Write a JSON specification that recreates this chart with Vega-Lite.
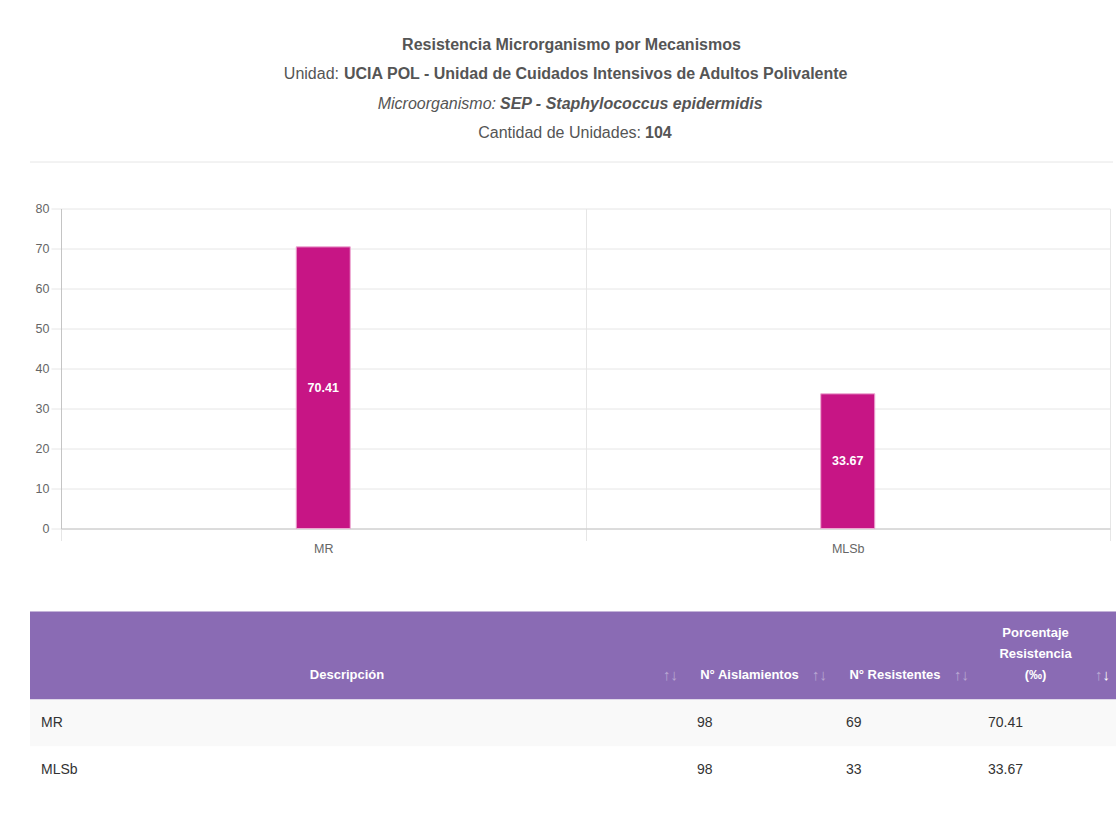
{
  "$schema": "https://vega.github.io/schema/vega-lite/v6.json",
  "background": "white",
  "padding": {"left": 29, "top": 37, "right": 0, "bottom": 0},
  "config": {"view": {"stroke": null}, "font": "Liberation Sans"},
  "datasets": {
    "encabezado": [
      {"linea": 1, "parte": "titulo", "texto": "Resistencia Microrganismo por Mecanismos"},
      {"linea": 2, "parte": "etiqueta", "texto": "Unidad:"},
      {"linea": 2, "parte": "valor", "texto": "UCIA POL - Unidad de Cuidados Intensivos de Adultos Polivalente"},
      {"linea": 3, "parte": "etiqueta", "texto": "Microorganismo:"},
      {"linea": 3, "parte": "valor", "texto": "SEP - Staphylococcus epidermidis"},
      {"linea": 4, "parte": "etiqueta", "texto": "Cantidad de Unidades:"},
      {"linea": 4, "parte": "valor", "texto": "104"}
    ],
    "barras": [
      {"mecanismo": "MR", "porcentaje": 70.41},
      {"mecanismo": "MLSb", "porcentaje": 33.67}
    ],
    "columnas": [
      {"col": "descripcion", "titulo": "Descripción"},
      {"col": "aislamientos", "titulo": "N° Aislamientos"},
      {"col": "resistentes", "titulo": "N° Resistentes"},
      {"col": "porcentaje", "titulo": "Porcentaje\nResistencia\n(‰)"}
    ],
    "tabla": [
      {"descripcion": "MR", "aislamientos": 98, "resistentes": 69, "porcentaje": 70.41},
      {"descripcion": "MLSb", "aislamientos": 98, "resistentes": 33, "porcentaje": 33.67}
    ]
  },
  "spacing": 56.5,
  "vconcat": [
    {
      "spacing": 39.5,
      "vconcat": [
        {
          "width": 1083,
          "height": 117,
          "data": {"name": "encabezado"},
          "encoding": {
            "y": {"field": "linea", "type": "ordinal", "scale": {"type": "point", "padding": 0, "domain": [1, 2, 3, 4, 5]}, "axis": null}
          },
          "layer": [
            {
              "transform": [{"filter": "datum.linea == 1"}],
              "mark": {"type": "text", "fontSize": 16, "fontWeight": "bold", "color": "#555", "baseline": "middle"},
              "encoding": {"text": {"field": "texto", "type": "nominal"}}
            },
            {
              "transform": [{"filter": "datum.linea == 2 && datum.parte == 'etiqueta'"}],
              "mark": {"type": "text", "fontSize": 16, "color": "#555", "align": "right", "baseline": "middle", "dx": -232.5},
              "encoding": {"text": {"field": "texto", "type": "nominal"}}
            },
            {
              "transform": [{"filter": "datum.linea == 2 && datum.parte == 'valor'"}],
              "mark": {"type": "text", "fontSize": 16, "fontWeight": "bold", "color": "#555", "align": "left", "baseline": "middle", "dx": -227.5},
              "encoding": {"text": {"field": "texto", "type": "nominal"}}
            },
            {
              "transform": [{"filter": "datum.linea == 3 && datum.parte == 'etiqueta'"}],
              "mark": {"type": "text", "fontSize": 16, "fontStyle": "italic", "color": "#555", "align": "right", "baseline": "middle", "dx": -75.5},
              "encoding": {"text": {"field": "texto", "type": "nominal"}}
            },
            {
              "transform": [{"filter": "datum.linea == 3 && datum.parte == 'valor'"}],
              "mark": {"type": "text", "fontSize": 16, "fontStyle": "italic", "fontWeight": "bold", "color": "#555", "align": "left", "baseline": "middle", "dx": -71.5},
              "encoding": {"text": {"field": "texto", "type": "nominal"}}
            },
            {
              "transform": [{"filter": "datum.linea == 4 && datum.parte == 'etiqueta'"}],
              "mark": {"type": "text", "fontSize": 16, "color": "#555", "align": "right", "baseline": "middle", "dx": 69.5},
              "encoding": {"text": {"field": "texto", "type": "nominal"}}
            },
            {
              "transform": [{"filter": "datum.linea == 4 && datum.parte == 'valor'"}],
              "mark": {"type": "text", "fontSize": 16, "fontWeight": "bold", "color": "#555", "align": "left", "baseline": "middle", "dx": 73.5},
              "encoding": {"text": {"field": "texto", "type": "nominal"}}
            },
            {
              "transform": [{"filter": "datum.linea == 1"}],
              "mark": {"type": "rule", "color": "#e6e6e6", "strokeWidth": 1},
              "encoding": {"y": {"datum": 5, "type": "ordinal"}}
            }
          ]
        },
        {
          "width": 1080,
          "height": 320,
          "data": {"name": "barras"},
          "encoding": {
            "x": {
              "field": "mecanismo", "type": "nominal", "sort": null,
              "scale": {"paddingInner": 0, "paddingOuter": 0, "rangeMin": 31},
              "axis": {"title": null, "labelAngle": 0, "tickBand": "extent", "grid": true, "gridColor": "#e6e6e6", "tickColor": "#e6e6e6", "tickSize": 12, "domainColor": "#c4c4c4", "labelColor": "#666", "labelFontSize": 12.5, "labelPadding": 2}
            }
          },
          "layer": [
            {
              "mark": {"type": "bar", "color": "#c71585", "stroke": "#eda8d2", "strokeWidth": 1, "width": {"band": 0.103}},
              "encoding": {
                "y": {
                  "field": "porcentaje", "type": "quantitative",
                  "scale": {"domain": [0, 80]},
                  "axis": {"title": null, "values": [0, 10, 20, 30, 40, 50, 60, 70, 80], "offset": -31, "grid": true, "gridColor": "#e6e6e6", "tickColor": "#e6e6e6", "tickSize": 10, "labelPadding": 2, "domainColor": "#c4c4c4", "labelColor": "#666", "labelFontSize": 12.5}
                }
              }
            },
            {
              "mark": {"type": "text", "color": "white", "fontWeight": "bold", "fontSize": 12.5, "baseline": "middle"},
              "encoding": {
                "y": {
                  "field": "porcentaje", "type": "quantitative", "stack": "zero", "bandPosition": 0.5,
                  "scale": {"domain": [0, 80]},
                  "axis": {"title": null, "values": [0, 10, 20, 30, 40, 50, 60, 70, 80], "offset": -31, "grid": true, "gridColor": "#e6e6e6", "tickColor": "#e6e6e6", "tickSize": 10, "labelPadding": 2, "domainColor": "#c4c4c4", "labelColor": "#666", "labelFontSize": 12.5}
                },
                "text": {"field": "porcentaje", "type": "quantitative", "format": ".2f"}
              }
            }
          ]
        }
      ]
    },
    {
      "spacing": -1,
      "vconcat": [
        {
          "spacing": -1,
          "hconcat": [
            {
              "width": 656, "height": 88,
              "view": {"fill": "#8a6bb4", "stroke": null},
              "data": {"name": "columnas"},
              "transform": [{"filter": "datum.col == 'descripcion'"}],
              "encoding": {"y": {"field": "col", "type": "nominal", "scale": {"type": "point", "padding": 0, "align": 1}, "axis": null}},
              "layer": [
                {"mark": {"type": "text", "color": "white", "fontWeight": "bold", "fontSize": 13, "baseline": "bottom", "dx": -11, "dy": -18, "lineBreak": "\n", "lineHeight": 21}, "encoding": {"text": {"field": "titulo", "type": "nominal"}}},
                {"mark": {"type": "text", "text": "↑↓", "color": "white", "opacity": 0.4, "fontSize": 15, "align": "right", "baseline": "bottom", "dx": -8, "dy": -17}, "encoding": {"x": {"field": "col", "type": "nominal", "scale": {"type": "point", "padding": 0, "align": 1}, "axis": null}}}
              ]
            },
            {
              "width": 149, "height": 88,
              "view": {"fill": "#8a6bb4", "stroke": null},
              "data": {"name": "columnas"},
              "transform": [{"filter": "datum.col == 'aislamientos'"}],
              "encoding": {"y": {"field": "col", "type": "nominal", "scale": {"type": "point", "padding": 0, "align": 1}, "axis": null}},
              "layer": [
                {"mark": {"type": "text", "color": "white", "fontWeight": "bold", "fontSize": 13, "baseline": "bottom", "dx": -11, "dy": -18, "lineBreak": "\n", "lineHeight": 21}, "encoding": {"text": {"field": "titulo", "type": "nominal"}}},
                {"mark": {"type": "text", "text": "↑↓", "color": "white", "opacity": 0.4, "fontSize": 15, "align": "right", "baseline": "bottom", "dx": -8, "dy": -17}, "encoding": {"x": {"field": "col", "type": "nominal", "scale": {"type": "point", "padding": 0, "align": 1}, "axis": null}}}
              ]
            },
            {
              "width": 142, "height": 88,
              "view": {"fill": "#8a6bb4", "stroke": null},
              "data": {"name": "columnas"},
              "transform": [{"filter": "datum.col == 'resistentes'"}],
              "encoding": {"y": {"field": "col", "type": "nominal", "scale": {"type": "point", "padding": 0, "align": 1}, "axis": null}},
              "layer": [
                {"mark": {"type": "text", "color": "white", "fontWeight": "bold", "fontSize": 13, "baseline": "bottom", "dx": -11, "dy": -18, "lineBreak": "\n", "lineHeight": 21}, "encoding": {"text": {"field": "titulo", "type": "nominal"}}},
                {"mark": {"type": "text", "text": "↑↓", "color": "white", "opacity": 0.4, "fontSize": 15, "align": "right", "baseline": "bottom", "dx": -8, "dy": -17}, "encoding": {"x": {"field": "col", "type": "nominal", "scale": {"type": "point", "padding": 0, "align": 1}, "axis": null}}}
              ]
            },
            {
              "width": 139, "height": 88,
              "view": {"fill": "#8a6bb4", "stroke": null},
              "data": {"name": "columnas"},
              "transform": [{"filter": "datum.col == 'porcentaje'"}],
              "encoding": {"y": {"field": "col", "type": "nominal", "scale": {"type": "point", "padding": 0, "align": 1}, "axis": null}},
              "layer": [
                {"mark": {"type": "text", "color": "white", "fontWeight": "bold", "fontSize": 13, "baseline": "bottom", "dx": -11, "dy": -60, "lineBreak": "\n", "lineHeight": 21}, "encoding": {"text": {"field": "titulo", "type": "nominal"}}},
                {"mark": {"type": "text", "text": "↑", "color": "white", "opacity": 0.4, "fontSize": 15, "align": "right", "baseline": "bottom", "dx": -13.5, "dy": -17}, "encoding": {"x": {"field": "col", "type": "nominal", "scale": {"type": "point", "padding": 0, "align": 1}, "axis": null}}},
                {"mark": {"type": "text", "text": "↓", "color": "white", "opacity": 1, "fontSize": 15, "align": "right", "baseline": "bottom", "dx": -6, "dy": -17}, "encoding": {"x": {"field": "col", "type": "nominal", "scale": {"type": "point", "padding": 0, "align": 1}, "axis": null}}}
              ]
            }
          ]
        },
        {
          "spacing": -1,
          "hconcat": [
            {
              "width": 656, "height": 47, "view": {"fill": "#f9f9f9", "stroke": null},
              "data": {"name": "tabla"}, "transform": [{"filter": "datum.descripcion == 'MR'"}],
              "mark": {"type": "text", "align": "left", "baseline": "middle", "dx": 11, "fontSize": 14, "color": "#333"},
              "encoding": {"x": {"field": "descripcion", "type": "nominal", "scale": {"type": "point", "padding": 0, "align": 0}, "axis": null}, "text": {"field": "descripcion", "type": "nominal"}}
            },
            {
              "width": 149, "height": 47, "view": {"fill": "#f9f9f9", "stroke": null},
              "data": {"name": "tabla"}, "transform": [{"filter": "datum.descripcion == 'MR'"}],
              "mark": {"type": "text", "align": "left", "baseline": "middle", "dx": 11, "fontSize": 14, "color": "#333"},
              "encoding": {"x": {"field": "descripcion", "type": "nominal", "scale": {"type": "point", "padding": 0, "align": 0}, "axis": null}, "text": {"field": "aislamientos", "type": "quantitative", "format": "d"}}
            },
            {
              "width": 142, "height": 47, "view": {"fill": "#f9f9f9", "stroke": null},
              "data": {"name": "tabla"}, "transform": [{"filter": "datum.descripcion == 'MR'"}],
              "mark": {"type": "text", "align": "left", "baseline": "middle", "dx": 11, "fontSize": 14, "color": "#333"},
              "encoding": {"x": {"field": "descripcion", "type": "nominal", "scale": {"type": "point", "padding": 0, "align": 0}, "axis": null}, "text": {"field": "resistentes", "type": "quantitative", "format": "d"}}
            },
            {
              "width": 139, "height": 47, "view": {"fill": "#f9f9f9", "stroke": null},
              "data": {"name": "tabla"}, "transform": [{"filter": "datum.descripcion == 'MR'"}],
              "mark": {"type": "text", "align": "left", "baseline": "middle", "dx": 11, "fontSize": 14, "color": "#333"},
              "encoding": {"x": {"field": "descripcion", "type": "nominal", "scale": {"type": "point", "padding": 0, "align": 0}, "axis": null}, "text": {"field": "porcentaje", "type": "quantitative", "format": ".2f"}}
            }
          ]
        },
        {
          "spacing": -1,
          "hconcat": [
            {
              "width": 656, "height": 46, "view": {"fill": "white", "stroke": null},
              "data": {"name": "tabla"}, "transform": [{"filter": "datum.descripcion == 'MLSb'"}],
              "mark": {"type": "text", "align": "left", "baseline": "middle", "dx": 11, "fontSize": 14, "color": "#333"},
              "encoding": {"x": {"field": "descripcion", "type": "nominal", "scale": {"type": "point", "padding": 0, "align": 0}, "axis": null}, "text": {"field": "descripcion", "type": "nominal"}}
            },
            {
              "width": 149, "height": 46, "view": {"fill": "white", "stroke": null},
              "data": {"name": "tabla"}, "transform": [{"filter": "datum.descripcion == 'MLSb'"}],
              "mark": {"type": "text", "align": "left", "baseline": "middle", "dx": 11, "fontSize": 14, "color": "#333"},
              "encoding": {"x": {"field": "descripcion", "type": "nominal", "scale": {"type": "point", "padding": 0, "align": 0}, "axis": null}, "text": {"field": "aislamientos", "type": "quantitative", "format": "d"}}
            },
            {
              "width": 142, "height": 46, "view": {"fill": "white", "stroke": null},
              "data": {"name": "tabla"}, "transform": [{"filter": "datum.descripcion == 'MLSb'"}],
              "mark": {"type": "text", "align": "left", "baseline": "middle", "dx": 11, "fontSize": 14, "color": "#333"},
              "encoding": {"x": {"field": "descripcion", "type": "nominal", "scale": {"type": "point", "padding": 0, "align": 0}, "axis": null}, "text": {"field": "resistentes", "type": "quantitative", "format": "d"}}
            },
            {
              "width": 139, "height": 46, "view": {"fill": "white", "stroke": null},
              "data": {"name": "tabla"}, "transform": [{"filter": "datum.descripcion == 'MLSb'"}],
              "mark": {"type": "text", "align": "left", "baseline": "middle", "dx": 11, "fontSize": 14, "color": "#333"},
              "encoding": {"x": {"field": "descripcion", "type": "nominal", "scale": {"type": "point", "padding": 0, "align": 0}, "axis": null}, "text": {"field": "porcentaje", "type": "quantitative", "format": ".2f"}}
            }
          ]
        }
      ]
    }
  ]
}
